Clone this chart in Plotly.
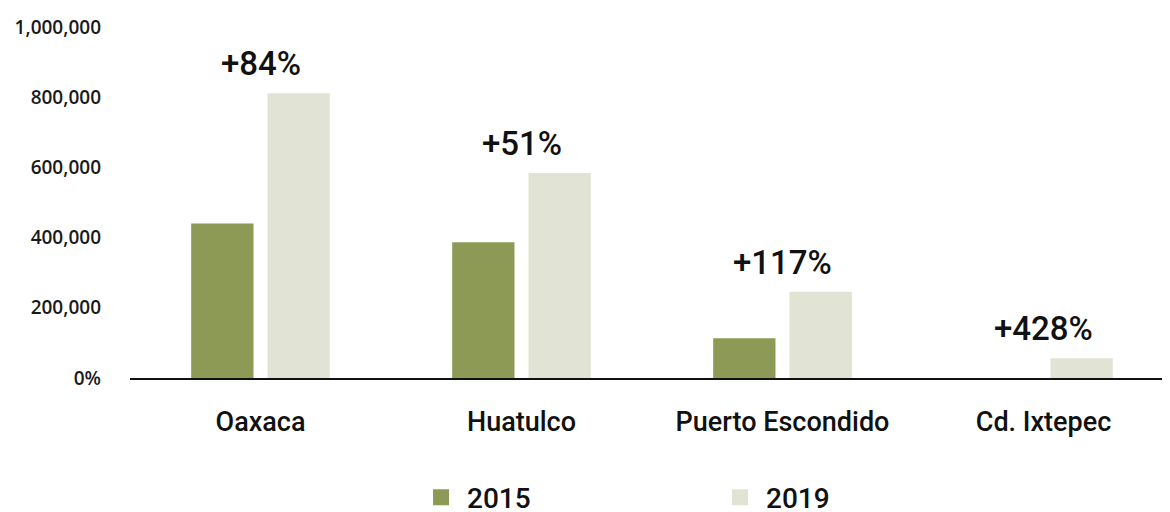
import plotly.graph_objects as go

categories = ["Oaxaca", "Huatulco", "Puerto Escondido", "Cd. Ixtepec"]
values_2015 = [440000, 387000, 113000, 0]
values_2019 = [811000, 584000, 246000, 56000]
growth_labels = ["+84%", "+51%", "+117%", "+428%"]
tick_values = [0, 200000, 400000, 600000, 800000, 1000000]
tick_labels = ["0%", "200,000", "400,000", "600,000", "800,000", "1,000,000"]

c2015 = "#8C9A55"
c2019 = "#E1E4D4"

fig = go.Figure()
fig.add_trace(go.Bar(x=categories, y=values_2015, marker_color=c2015, name="2015", showlegend=False))
fig.add_trace(go.Bar(x=categories, y=values_2019, marker_color=c2019, name="2019", showlegend=False))
# legend entries with large square symbols
fig.add_trace(go.Scatter(x=[None], y=[None], mode="markers", name="2015",
                         marker=dict(symbol="square", size=24, color=c2015)))
fig.add_trace(go.Scatter(x=[None], y=[None], mode="markers", name="2019",
                         marker=dict(symbol="square", size=24, color=c2019)))

for cat, v, lab in zip(categories, values_2019, growth_labels):
    fig.add_annotation(x=cat, y=v, text=lab, showarrow=False, yanchor="bottom", yshift=8,
                       font=dict(family="Roboto", size=33, color="#111111", weight=500))

fig.update_layout(
    template="none",
    width=1170, height=512,
    margin=dict(l=122, r=4, t=19, b=142),
    paper_bgcolor="white", plot_bgcolor="white",
    barmode="group", bargap=0.415, bargroupgap=0.184,
    showlegend=True,
    legend=dict(orientation="h", x=0.273, xanchor="left", xref="paper",
                y=0.044, yanchor="middle", yref="container",
                entrywidth=242, itemwidth=42,
                font=dict(family="Roboto", size=28, color="#111111", weight=500),
                itemsizing="trace", bgcolor="rgba(0,0,0,0)"),
    xaxis=dict(automargin=False, showline=True, linecolor="#111111", linewidth=2, showgrid=False,
               ticks="", ticklabelstandoff=19, zeroline=False,
               tickfont=dict(family="Roboto", size=27, color="#111111", weight=500)),
    yaxis=dict(automargin=False, range=[0, 1000000], showgrid=False, zeroline=False, showline=False,
               ticks="", tickvals=tick_values, ticktext=tick_labels, ticklabelstandoff=28,
               tickfont=dict(family="Open Sans", size=19, color="#1a1a1a", weight=600)),
)

fig.write_html("out.html")
